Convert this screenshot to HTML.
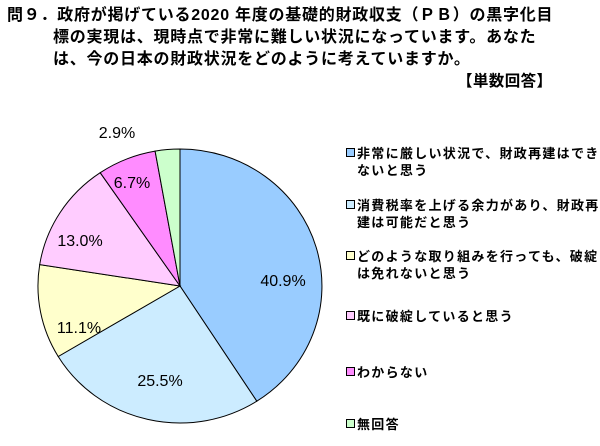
<!DOCTYPE html>
<html><head><meta charset="utf-8"><style>
body{margin:0;width:600px;height:446px;background:#fff;overflow:hidden;position:relative;font-family:"Liberation Sans","Noto Sans CJK JP",sans-serif;}
.t{position:absolute;font-weight:bold;font-size:16px;color:#000;white-space:nowrap;line-height:21px;letter-spacing:0.75px}
.lg{position:absolute;left:346px;font-size:13px;font-weight:bold;line-height:17px;white-space:nowrap;letter-spacing:1.3px}
.sq{display:inline-block;width:7px;height:7px;border:1px solid #000;margin-right:2px;vertical-align:1px}
.ind{padding-left:11px}
</style></head><body>
<div class="t" style="left:7px;top:5px">問９．政府が掲げている2020 年度の基礎的財政収支（ＰＢ）の黒字化目</div>
<div class="t" style="left:53px;top:27px">標の実現は、現時点で非常に難しい状況になっています。あなた</div>
<div class="t" style="left:53px;top:49px">は、今の日本の財政状況をどのように考えていますか。</div>
<div class="t" style="left:457px;top:71px;font-size:15.5px;letter-spacing:0.4px">【単数回答】</div>
<svg width="600" height="446" style="position:absolute;left:0;top:0">
<g stroke="#000" stroke-width="1">
<path d="M180,286 L180,149 A142,137 0 0 1 256.8,401.2 Z" fill="#99CCFF"/>
<path d="M180,286 L256.8,401.2 A142,137 0 0 1 58.2,356.5 Z" fill="#CCECFF"/>
<path d="M180,286 L58.2,356.5 A142,137 0 0 1 39.7,264.6 Z" fill="#FFFFCC"/>
<path d="M180,286 L39.7,264.6 A142,137 0 0 1 100.2,172.7 Z" fill="#FFCCFF"/>
<path d="M180,286 L100.2,172.7 A142,137 0 0 1 155.1,151.1 Z" fill="#FF8CFF"/>
<path d="M180,286 L155.1,151.1 A142,137 0 0 1 180,149 Z" fill="#CCFFCC"/>
</g>
<g font-family="Liberation Sans, sans-serif" font-size="16" text-anchor="middle" fill="#000">
<text x="283" y="286">40.9%</text>
<text x="160" y="386">25.5%</text>
<text x="79" y="333">11.1%</text>
<text x="80" y="246">13.0%</text>
<text x="132" y="188">6.7%</text>
<text x="117" y="138">2.9%</text>
</g>
</svg>
<div class="lg" style="top:145px"><span class="sq" style="background:#99CCFF"></span>非常に厳しい状況で、財政再建はでき<br><span class="ind">ないと思う</span></div>
<div class="lg" style="top:197px"><span class="sq" style="background:#CCECFF"></span>消費税率を上げる余力があり、財政再<br><span class="ind">建は可能だと思う</span></div>
<div class="lg" style="top:248px"><span class="sq" style="background:#FFFFCC"></span>どのような取り組みを行っても、破綻<br><span class="ind">は免れないと思う</span></div>
<div class="lg" style="top:308px"><span class="sq" style="background:#FFCCFF"></span>既に破綻していると思う</div>
<div class="lg" style="top:364px"><span class="sq" style="background:#FF8CFF"></span>わからない</div>
<div class="lg" style="top:416px"><span class="sq" style="background:#CCFFCC"></span>無回答</div>
</body></html>
